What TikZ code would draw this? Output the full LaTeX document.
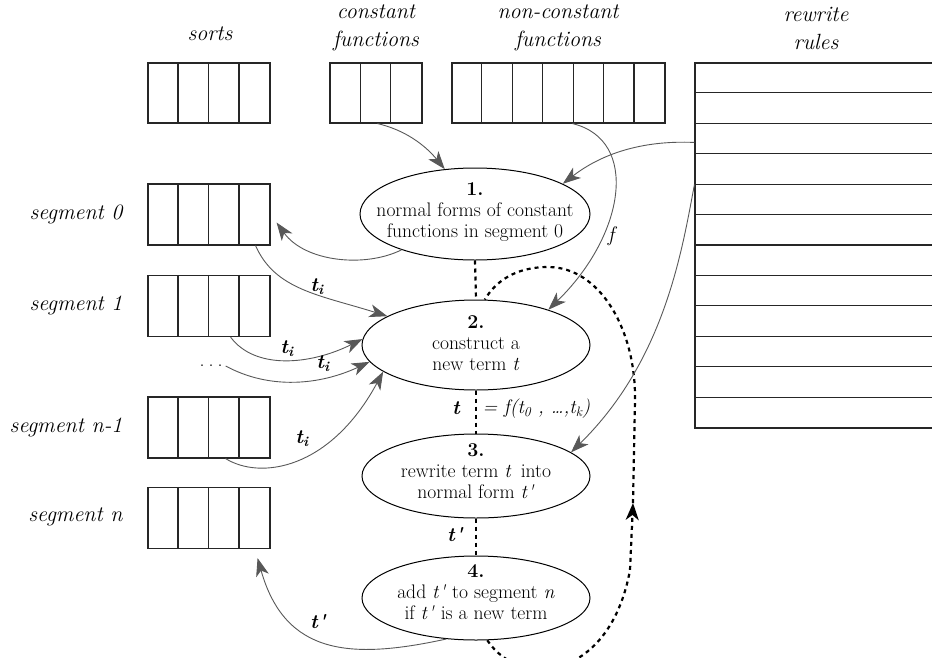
\documentclass[tikz,border=0pt]{standalone}
\usetikzlibrary{arrows.meta,calc,shapes.geometric}
\definecolor{arrgray}{RGB}{88,88,88}
\newcommand{\myprime}{\kern0.8pt\textquotesingle}
\begin{document}
\begin{tikzpicture}[x=1pt,y=-1pt,
  box/.style={draw=black!85,line width=1.1pt,rectangle,inner sep=0pt},
  ell/.style={draw=black,line width=1pt,ellipse,inner sep=0pt},
  etext/.style={align=center,font=\fontsize{19.6}{21}\selectfont},
  head/.style={align=center,font=\fontsize{22}{28}\selectfont\itshape},
  seglabel/.style={anchor=east,font=\fontsize{22}{24}\selectfont\itshape},
  lab/.style={font=\fontsize{20}{22}\selectfont\bfseries\itshape},
  garrow/.style={draw=arrgray,line width=0.9pt,-{Stealth[length=18pt,width=13pt,inset=5pt]}},
  dline/.style={draw=black,line width=2.2pt,dash pattern=on 4pt off 4pt},
]
\useasboundingbox (0,0) rectangle (932,657);

% headings
\node[head] (hs) at (210,34) {sorts};
\node[head] (hc) at (376,28) {constant\\functions};
\node[head] (hn) at (558,28) {non-constant\\functions};
\node[head] (hr) at (816,28) {rewrite\\rules};

% top boxes
\node[box,minimum width=122pt,minimum height=60pt] (sorts) at (209,93) {};
\foreach \i in {1,2,3} \draw[black!85,line width=1.1pt] ($(sorts.north west)+(30.5*\i,0)$) -- ($(sorts.south west)+(30.5*\i,0)$);
\node[box,minimum width=92pt,minimum height=60pt] (cf) at (376,93) {};
\foreach \i in {1,2} \draw[black!85,line width=1.1pt] ($(cf.north west)+(30.67*\i,0)$) -- ($(cf.south west)+(30.67*\i,0)$);
\node[box,minimum width=213pt,minimum height=60pt] (ncf) at (558.5,93) {};
\foreach \i in {1,...,6} \draw[black!85,line width=1.1pt] ($(ncf.north west)+(30.43*\i,0)$) -- ($(ncf.south west)+(30.43*\i,0)$);
\node[box,minimum width=238pt,minimum height=365pt] (rules) at (814,245.5) {};
\foreach \i in {1,...,11} \draw[black!85,line width=1.1pt] ($(rules.north west)+(0,30.42*\i)$) -- ($(rules.north east)+(0,30.42*\i)$);

% segments
\foreach \n/\y in {seg0/214.5,seg1/306,segn1/427.5,segn/518}{
  \node[box,minimum width=122pt,minimum height=61pt] (\n) at (209,\y) {};
  \foreach \i in {1,2,3} \draw[black!85,line width=1.1pt] ($(\n.north west)+(30.5*\i,0)$) -- ($(\n.south west)+(30.5*\i,0)$);
}
\node[seglabel] (l0) at (126,214) {segment 0};
\node[seglabel] (l1) at (126,305) {segment 1};
\node[seglabel] (ln1) at (126,427) {segment n-1};
\node[seglabel] (ln) at (126,517) {segment n};
\node[font=\fontsize{20}{22}\selectfont,inner sep=3pt] (dots) at (211,366) {.\hspace{4pt}.\hspace{4pt}.};

% ellipses
\node[ell,minimum width=230pt,minimum height=92pt] (e1) at (475,214) {};
\node[etext] (t1) at (475,212) {\textbf{1.}\\normal forms of constant\\functions in segment 0};
\node[ell,minimum width=228pt,minimum height=90pt] (e2) at (476,345) {};
\node[etext] (t2) at (476,343) {\textbf{2.}\\construct a\\new term \textit{t}};
\node[ell,minimum width=228pt,minimum height=84pt] (e3) at (476,476) {};
\node[etext] (t3) at (476,471) {\textbf{3.}\\rewrite term \textit{t}\, into\\normal form \textit{t\myprime}};
\node[ell,minimum width=228pt,minimum height=84pt] (e4) at (476,598) {};
\node[etext] (t4) at (476,592) {\textbf{4.}\\add \textit{t\myprime} to segment \textit{n}\\if \textit{t\myprime} is a new term};

% dashed vertical connectors
\draw[dline] (e1.south) -- (e2.north);
\draw[dline] (e2.south) -- (e3.north);
\draw[dline] (e3.south) -- (e4.north);
\node[lab] (lt) at (456,408) {t};
\node[anchor=west,font=\fontsize{19.5}{20}\selectfont\itshape] (lf) at (479,409) {= f(t\textsubscript{0} , \dots,t\textsubscript{k})};
\node[lab] (ltp) at (455,535) {t\myprime};

% dashed loop
\coordinate (la) at (633,503);
\draw[dline,-{Stealth[length=17pt,width=13pt,inset=5pt]}] (e4.285) .. controls (520,690) and (610,680) .. (630,570) -- (la);
\draw[dline] (la) -- (635,400) .. controls (636,330) and (600,267) .. (548,267) .. controls (515,267) and (495,282) .. (e2.79);

% gray connectors
\draw[garrow] ($(cf.south west)+(48,0)$) .. controls (405,130) and (425,145) .. (e1.124);
\draw[garrow] ($(ncf.south west)+(121,0)$) .. controls (640,140) and (625,235) .. (e2.26);
\node[font=\fontsize{21}{22}\selectfont\itshape] (lfn) at (611,236) {f};
\draw[garrow] ($(rules.north west)+(0,80)$) .. controls (640,140) and (600,155) .. (e1.19);
\draw[garrow] ($(rules.north west)+(0,122)$) .. controls (682,250) and (665,360) .. (e3.14);
\draw[garrow] (e1.206) .. controls (365,268) and (305,262) .. ($(seg0.east)+(6,8)$);
\draw[garrow] ($(seg0.south east)+(-15,0)$) .. controls (275,290) and (320,295) .. (e2.162);
\draw[garrow] ($(seg1.south east)+(-40,0)$) .. controls (255,370) and (310,365) .. (e2.177);
\draw[garrow] (dots.east) .. controls (270,390) and (320,385) .. (e2.189);
\draw[garrow] ($(segn1.south east)+(-45,0)$) .. controls (260,480) and (330,470) .. (e2.196);
\draw[garrow] (e4.234) .. controls (350,660) and (285,655) .. ($(segn.south east)+(-13,9)$);
\node[lab] (ti1) at (317,287) {t\textsubscript{i}};
\node[lab] (ti2) at (287,349) {t\textsubscript{i}};
\node[lab] (ti3) at (323,364) {t\textsubscript{i}};
\node[lab] (ti4) at (302,439) {t\textsubscript{i}};
\node[lab] (tp) at (318,622) {t\myprime};
\end{tikzpicture}
\end{document}
